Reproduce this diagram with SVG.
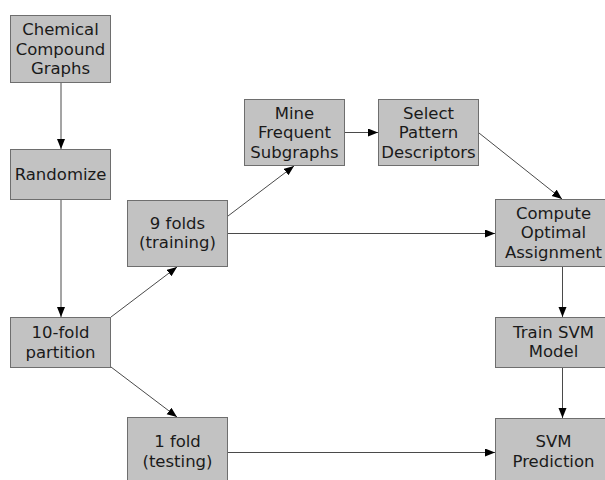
<svg xmlns="http://www.w3.org/2000/svg" width="605" height="480" viewBox="0 0 605 480">
<style>
.box{fill:#c2c2c2;stroke:#6e6e6e;stroke-width:1}
.t{font-family:"DejaVu Sans",sans-serif;font-size:16.5px;fill:#1a1a1a;text-anchor:middle}
.c{stroke:#4a4a4a;stroke-width:1;fill:none;marker-end:url(#ah)}
</style>
<defs>
<marker id="ah" markerUnits="userSpaceOnUse" markerWidth="11" markerHeight="9" refX="10" refY="4" orient="auto">
<path d="M0,0 L10,4 L0,8 Z" fill="#000"/>
</marker>
</defs>
<rect width="605" height="480" fill="#fff"/>
<g id="connectors">
<line class="c" x1="61" y1="82" x2="61" y2="149"/>
<line class="c" x1="61" y1="200" x2="61" y2="317"/>
<line class="c" x1="111" y1="317" x2="177" y2="267"/>
<line class="c" x1="111" y1="367" x2="177" y2="417"/>
<line class="c" x1="228" y1="216" x2="294" y2="166"/>
<line class="c" x1="228" y1="233.5" x2="495" y2="233.5"/>
<line class="c" x1="345" y1="132.5" x2="378" y2="132.5"/>
<line class="c" x1="479" y1="133" x2="562" y2="199"/>
<line class="c" x1="562.5" y1="267" x2="562.5" y2="317"/>
<line class="c" x1="562.5" y1="367" x2="562.5" y2="418"/>
<line class="c" x1="228" y1="452.5" x2="495" y2="452.5"/>
</g>
<g id="chem"><rect class="box" x="10.5" y="15.5" width="100" height="67"/><text class="t" x="60.5" y="35">Chemical</text><text class="t" x="60.5" y="54.5">Compound</text><text class="t" x="60.5" y="74">Graphs</text></g>
<g id="randomize"><rect class="box" x="10.5" y="149.5" width="100" height="50"/><text class="t" x="60.5" y="179.5">Randomize</text></g>
<g id="partition"><rect class="box" x="10.5" y="317.5" width="100" height="50"/><text class="t" x="60.5" y="338">10-fold</text><text class="t" x="60.5" y="357.5">partition</text></g>
<g id="nine"><rect class="box" x="127.5" y="200.5" width="100" height="66"/><text class="t" x="177.5" y="228.5">9 folds</text><text class="t" x="177.5" y="248">(training)</text></g>
<g id="one"><rect class="box" x="127.5" y="417.5" width="100" height="67"/><text class="t" x="177.5" y="447">1 fold</text><text class="t" x="177.5" y="466.5">(testing)</text></g>
<g id="mine"><rect class="box" x="244.5" y="99.5" width="100" height="66"/><text class="t" x="294.5" y="118.5">Mine</text><text class="t" x="294.5" y="138">Frequent</text><text class="t" x="294.5" y="157.5">Subgraphs</text></g>
<g id="select"><rect class="box" x="378.5" y="99.5" width="100" height="66"/><text class="t" x="428.5" y="118.5">Select</text><text class="t" x="428.5" y="138">Pattern</text><text class="t" x="428.5" y="157.5">Descriptors</text></g>
<g id="compute"><rect class="box" x="495.5" y="199.5" width="116" height="67"/><text class="t" x="553.5" y="218.5">Compute</text><text class="t" x="553.5" y="238">Optimal</text><text class="t" x="553.5" y="257.5">Assignment</text></g>
<g id="train"><rect class="box" x="495.5" y="317.5" width="116" height="50"/><text class="t" x="553.5" y="337.5">Train SVM</text><text class="t" x="553.5" y="357">Model</text></g>
<g id="predict"><rect class="box" x="495.5" y="418.5" width="116" height="67"/><text class="t" x="553.5" y="447">SVM</text><text class="t" x="553.5" y="466.5">Prediction</text></g>
</svg>
